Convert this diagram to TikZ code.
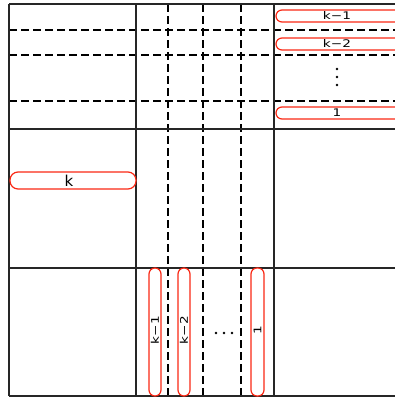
\documentclass[tikz,border=0pt]{standalone}
\usepackage{fontspec}
\setmainfont{DejaVu Sans}
\newfontfamily\lblfont[FakeStretch=1.3]{DejaVu Sans}
\begin{document}
\begin{tikzpicture}[x=1pt,y=-1pt,
  frame/.style={line width=1.5pt,black!85},
  dline/.style={line width=1.3pt,dash pattern=on 7.5pt off 4.5pt},
  pill/.style={draw={rgb,255:red,250;green,40;blue,20},line width=1.2pt,rounded corners=6pt,fill=white},
  dot/.style={circle,fill=black,inner sep=0pt,minimum size=2.6pt},
  lbl/.style={font=\lblfont\fontsize{10.5}{11}\selectfont,inner sep=0pt},
  bigl/.style={font=\fontsize{15}{16}\selectfont,inner sep=0pt}]
\useasboundingbox (0,0) rectangle (395,399);
\clip (0,0) rectangle (395,399);
% dashed lines
\draw[dline] (9,30) -- (400,30);
\draw[dline] (9,55) -- (400,55);
\draw[dline] (9,101) -- (400,101);
\draw[dline] (168,4) -- (168,396);
\draw[dline] (203,4) -- (203,396);
\draw[dline] (241,4) -- (241,396);
% frame
\draw[frame] (9,4) -- (400,4);
\draw[frame] (9,129) -- (400,129);
\draw[frame] (9,268) -- (400,268);
\draw[frame] (9,396) -- (400,396);
\draw[frame] (9,4) -- (9,396);
\draw[frame] (136,4) -- (136,396);
\draw[frame] (274,4) -- (274,396);
% right pills
\draw[pill] (276,10) rectangle (410,22);
\node[lbl] (a1) at (337,16) {k−1};
\draw[pill] (276,38) rectangle (410,50);
\node[lbl] (a2) at (337,44) {k−2};
\draw[pill] (276,107) rectangle (410,119);
\node[lbl] (a3) at (337,113) {1};
\node[dot] (v1) at (337,69) {};
\node[dot] (v2) at (337,77) {};
\node[dot] (v3) at (337,85) {};
% middle pill
\draw[pill,rounded corners=8pt] (10,172) rectangle (136,189);
\node[bigl] (b1) at (69,180.5) {k};
% bottom pills
\draw[pill] (149,268) rectangle (161,396);
\node[lbl,rotate=90] (c1) at (155,330) {k−1};
\draw[pill] (178,268) rectangle (190,396);
\node[lbl,rotate=90] (c2) at (184,330) {k−2};
\draw[pill] (251,268) rectangle (264,396);
\node[lbl,rotate=90] (c3) at (257.5,330) {1};
\node[dot] (h1) at (216,333) {};
\node[dot] (h2) at (224,333) {};
\node[dot] (h3) at (232,333) {};
\end{tikzpicture}
\end{document}
